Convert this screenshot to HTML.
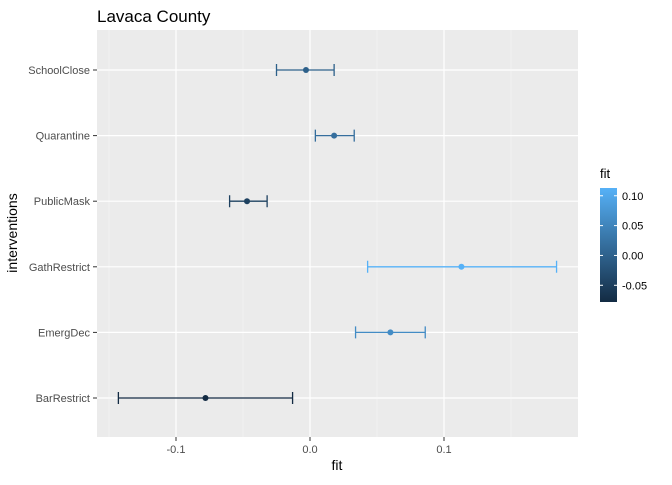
<!DOCTYPE html>
<html><head><meta charset="utf-8"><style>
body{margin:0;background:#fff;font-family:"Liberation Sans",sans-serif}
</style></head><body>
<svg width="672" height="480" xmlns="http://www.w3.org/2000/svg">
<defs><linearGradient id="g" x1="0" y1="1" x2="0" y2="0">
<stop offset="0" stop-color="#132B43"/><stop offset="1" stop-color="#56B1F7"/></linearGradient></defs>
<text x="97" y="22" font-size="17" fill="#000">Lavaca County</text>
<rect x="97" y="30" width="481" height="407" fill="#ebebeb"/>
<g id="grid"></g><g id="marks"></g><g id="axes"></g>
<text x="337" y="470" font-size="14" text-anchor="middle">fit</text>
<text transform="translate(17,233) rotate(-90)" font-size="14" text-anchor="middle">interventions</text>
<text x="600" y="178" font-size="13">fit</text>
<rect x="600" y="188" width="17" height="114" fill="url(#g)"/>
<g id="legend"></g>
</svg>
<script>
const categories=["SchoolClose","Quarantine","PublicMask","GathRestrict","EmergDec","BarRestrict"];
const fitValues=[-0.003,0.018,-0.047,0.113,0.060,-0.078];
const lowerValues=[-0.025,0.004,-0.060,0.043,0.034,-0.143];
const upperValues=[0.018,0.033,-0.032,0.184,0.086,-0.013];
const xTicks=[-0.1,0.0,0.1];
const xTickLabels=["-0.1","0.0","0.1"];
const legendTicks=[0.10,0.05,0.00,-0.05];
const legendLabels=["0.10","0.05","0.00","-0.05"];
const NS="http://www.w3.org/2000/svg";
const x=v=>310+v*1340;
const y=i=>70+i*65.6;
const lo=Math.min(...fitValues),hi=Math.max(...fitValues);
const ly=v=>302-(v-lo)/(hi-lo)*114;
function col(v){const t=(v-lo)/(hi-lo);const a=[0x13,0x2B,0x43],b=[0x56,0xB1,0xF7];
return "rgb("+a.map((c,k)=>Math.round(c+(b[k]-c)*t)).join(",")+")";}
function mk(p,tag,at){const e=document.createElementNS(NS,tag);for(const k in at)e.setAttribute(k,at[k]);p.appendChild(e);return e;}
const grid=document.getElementById('grid'),marks=document.getElementById('marks'),axes=document.getElementById('axes'),leg=document.getElementById('legend');
for(let i=0;i<xTicks.length-1;i++){const m=mk(grid,'line',{x1:x((xTicks[i]+xTicks[i+1])/2),x2:x((xTicks[i]+xTicks[i+1])/2),y1:30,y2:437,stroke:'#f5f5f5','stroke-width':0.6});
}
[xTicks[0]-0.05,xTicks[xTicks.length-1]+0.05].forEach(v=>{if(x(v)>97&&x(v)<578){const m=mk(grid,'line',{x1:x(v),x2:x(v),y1:30,y2:437,stroke:'#f5f5f5','stroke-width':0.6});
}});
xTicks.forEach((v,i)=>{const g=mk(grid,'line',{x1:x(v),x2:x(v),y1:30,y2:437,stroke:'#fff','stroke-width':1.2});

const t=mk(axes,'line',{x1:x(v),x2:x(v),y1:437,y2:441,stroke:'#333'});

const l=mk(axes,'text',{x:x(v),y:453,'font-size':11,'text-anchor':'middle',fill:'#4d4d4d'});l.textContent=xTickLabels[i];
});
categories.forEach((c,i)=>{const g=mk(grid,'line',{x1:97,x2:578,y1:y(i),y2:y(i),stroke:'#fff','stroke-width':1.2});

const t=mk(axes,'line',{x1:93,x2:97,y1:y(i),y2:y(i),stroke:'#333'});

const l=mk(axes,'text',{x:90,y:y(i)+4,'font-size':11,'text-anchor':'end',fill:'#4d4d4d'});l.textContent=c;

const cl=col(fitValues[i]);
const e=mk(marks,'path',{d:`M${x(lowerValues[i])},${y(i)-6}V${y(i)+6}M${x(lowerValues[i])},${y(i)}H${x(upperValues[i])}M${x(upperValues[i])},${y(i)-6}V${y(i)+6}`,stroke:cl,'stroke-width':1.3,fill:'none'});

const p=mk(marks,'circle',{cx:x(fitValues[i]),cy:y(i),r:3,fill:cl});
});
legendTicks.forEach((v,i)=>{const yy=ly(v);
const a=mk(leg,'line',{x1:600,x2:603,y1:yy,y2:yy,stroke:'#fff'});
const b=mk(leg,'line',{x1:614,x2:617,y1:yy,y2:yy,stroke:'#fff'});
const l=mk(leg,'text',{x:622,y:yy+4,'font-size':11,fill:'#000'});l.textContent=legendLabels[i];
});
</script>
</body></html>
